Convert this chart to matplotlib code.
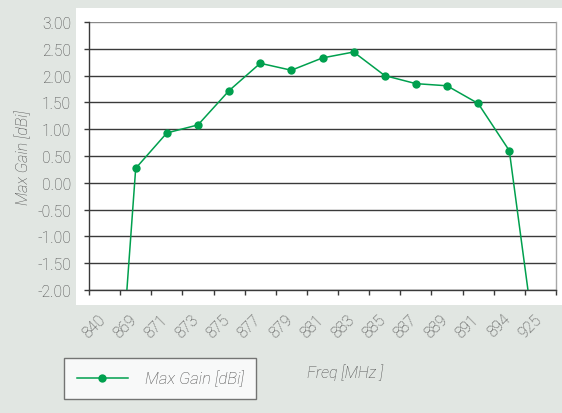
import matplotlib
matplotlib.use("Agg")
import matplotlib.pyplot as plt
from matplotlib.patches import Rectangle
from matplotlib.transforms import blended_transform_factory, ScaledTranslation
import numpy as np

freqs = ["840", "869", "871", "873", "875", "877", "879", "881", "883",
         "885", "887", "889", "891", "894", "925"]
max_gain = [-7.75, 0.27, 0.93, 1.08, 1.72, 2.23, 2.10, 2.33, 2.44,
            2.00, 1.85, 1.81, 1.48, 0.60, -3.74]
yticks = [-2.0, -1.5, -1.0, -0.5, 0.0, 0.5, 1.0, 1.5, 2.0, 2.5, 3.0]

W, H = 562, 414
BG = "#e1e6e2"
TXT = "#484848"
GREEN = "#00a04e"
FONT = "Roboto"
TICK_FS = 11.2
LAB_FS = 11.5

fig = plt.figure(figsize=(W / 100, H / 100), dpi=100, facecolor=BG)

# white panel behind the chart
fig.patches.append(Rectangle((76 / W, 1 - 306 / H), (W - 76) / W, (306 - 9) / H,
                             transform=fig.transFigure, facecolor="white",
                             edgecolor="none", zorder=-5))

ax = fig.add_axes([89 / W, 1 - 291 / H, 467 / W, 268 / H])
ax.set_zorder(2)
ax.set_facecolor("white")

x = np.arange(len(freqs))
ax.plot(x, max_gain, color=GREEN, lw=1.1, marker="o", markersize=6.0,
        markeredgewidth=0, label="Max Gain [dBi]", clip_on=True, zorder=3)

ax.set_xlim(-0.5, len(freqs) - 0.5)
ax.set_ylim(-2.0, 3.0)
ax.set_yticks(yticks)
ax.set_yticklabels([f"{v:.2f}" for v in yticks], fontfamily=FONT,
                   fontweight="light", fontsize=TICK_FS, color=TXT)
for v in yticks:
    ax.axhline(v, color="#3a3a3a" if v < 3 else "#8a8a8a", lw=1.0, zorder=1)

# category boundaries as tick marks, labels placed at category centres
ax.set_xticks(np.arange(-0.5, len(freqs), 1.0))
ax.set_xticklabels([])
ax.tick_params(axis="x", which="major", direction="out", length=3.5,
               width=1.0, color="#3a3a3a")
ax.tick_params(axis="y", direction="out", length=3.5, width=1.0,
               color="#3a3a3a", pad=9.5)

trans = blended_transform_factory(ax.transData, ax.transAxes) + \
    ScaledTranslation(-7 / 100, -21 / 100, fig.dpi_scale_trans)
for i, lab in enumerate(freqs):
    ax.text(i, 0, lab, transform=trans, rotation=45, ha="right", va="top",
            rotation_mode="anchor", fontfamily=FONT, fontweight="light",
            fontsize=TICK_FS, color=TXT, clip_on=False)

for s in ["left", "bottom"]:
    ax.spines[s].set_color("#3a3a3a")
    ax.spines[s].set_linewidth(1.0)
ax.spines["top"].set_visible(False)
ax.spines["right"].set_color("#a8a8a8")
ax.spines["right"].set_linewidth(1.0)

fig.text(23 / W, 1 - 158 / H, "Max Gain [dBi]", rotation=90, ha="center",
         va="center", fontfamily=FONT, fontweight="light", fontstyle="italic",
         fontsize=LAB_FS, color=TXT)
fig.text(307 / W, 1 - 373 / H, "Freq [MHz ]", ha="left", va="center",
         fontfamily=FONT, fontweight="light", fontstyle="italic",
         fontsize=LAB_FS, color=TXT)

leg = fig.legend(loc="lower left", bbox_to_anchor=(64 / W, 1 - 400 / H),
                 bbox_transform=fig.transFigure, frameon=True, fancybox=False,
                 borderpad=0.75, handlelength=3.1, handletextpad=1.0,
                 borderaxespad=0,
                 prop={"family": FONT, "weight": "light", "style": "italic",
                       "size": 12})
leg.get_frame().set_edgecolor("#555555")
leg.get_frame().set_linewidth(1.0)
for t in leg.get_texts():
    t.set_color(TXT)

fig.savefig("out.png", dpi=100, facecolor=BG)
